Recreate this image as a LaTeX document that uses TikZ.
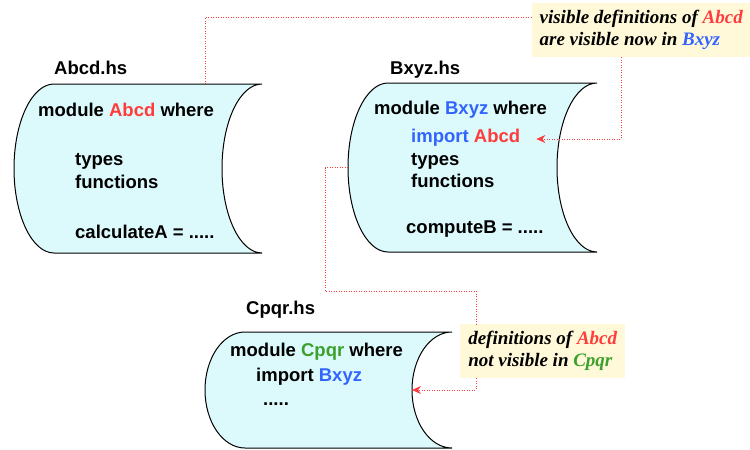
\documentclass[tikz,border=0pt]{standalone}
\usepackage{fontspec}
\setmainfont{Liberation Serif}
\setsansfont{Liberation Sans}
\usetikzlibrary{arrows.meta,positioning}

\definecolor{modred}{RGB}{255,60,60}
\definecolor{modblue}{RGB}{50,100,255}
\definecolor{modgreen}{RGB}{60,160,45}
\definecolor{filefill}{RGB}{220,250,252}
\definecolor{notefill}{RGB}{255,249,218}

% file symbol: name, left, top, right, bottom
\newcommand{\hsfile}[5]{%
  \draw[filebox] ({#2+40},#3) -- (#4,#3)
    arc[start angle=270, end angle=90, x radius=40, y radius={(#5-#3)/2}]
    -- ({#2+40},#5)
    arc[start angle=90, end angle=270, x radius=40, y radius={(#5-#3)/2}]
    -- cycle;
  \coordinate (#1-w) at (#2,{(#3+#5)/2});
  \coordinate (#1-e) at ({#4-40},{(#3+#5)/2});
}

\begin{document}
\begin{tikzpicture}[x=1pt,y=-1pt,>={Stealth[length=9pt,width=8pt]},
        code/.style={font=\sffamily\bfseries\fontsize{18.5}{22}\selectfont,
          anchor=base west,inner sep=0pt},
        note/.style={fill=notefill,anchor=north west,align=left,
          font=\rmfamily\bfseries\itshape\fontsize{19}{22}\selectfont},
        link/.style={modred,line width=0.8pt,dash pattern=on 1pt off 1.5pt},
        filebox/.style={draw,line width=1pt,fill=filefill}]

  \useasboundingbox (0,0) rectangle (750,450);

  \hsfile{a}{14}{84}{262}{253}
  \hsfile{b}{348}{83}{597}{252}
  \hsfile{c}{205}{332}{452}{448}

  \node[code] (atitle) at (54,74)  {Abcd.hs};
  \node[code] (amod)   at (38,116) {module \textcolor{modred}{Abcd} where};
  \node[code] (atypes) at (75,165) {types};
  \node[code] (afun)   at (75,188) {functions};
  \node[code] (acalc)  at (75,238) {calculateA = .....};

  \node[code] (btitle) at (390,74)  {Bxyz.hs};
  \node[code] (bmod)   at (374,114) {module \textcolor{modblue}{Bxyz} where};
  \node[code] (bimp)   at (411,142) {\textcolor{modblue}{import} \textcolor{modred}{Abcd}};
  \node[code] (btypes) at (411,165) {types};
  \node[code] (bfun)   at (411,187) {functions};
  \node[code] (bcomp)  at (406,233) {computeB = .....};

  \node[code] (ctitle) at (246,314) {Cpqr.hs};
  \node[code] (cmod)   at (230,356) {module \textcolor{modgreen}{Cpqr} where};
  \node[code] (cimp)   at (256,381) {import \textcolor{modblue}{Bxyz}};
  \node[code] (cdots)  at (263,405) {.....};

  \node[note,minimum width=218pt,minimum height=54pt] (visA) at (532,3)
    {visible definitions of \textcolor{modred}{Abcd}\\are visible now in \textcolor{modblue}{Bxyz}};
  \node[note,minimum width=165pt,minimum height=54pt] (visC) at (460,324)
    {definitions of \textcolor{modred}{Abcd}\\not visible in \textcolor{modgreen}{Cpqr}};

  \coordinate (atop) at (205,84);
  \coordinate (bendA) at (205,17);
  \coordinate (bendB) at (621,139);
  \coordinate (bendC) at (476,291);

  \draw[link] (atop) -- (bendA) -- (bendA -| visA.west);
  \draw[link,->,shorten >=16pt] (bendB |- visA.south) -- (bendB) -- (bendB -| bimp.east);
  \draw[link] (b-w) -- ++(-23,0) |- (bendC) -- (bendC |- visC.north);
  \draw[link,->] (bendC |- visC.south) -- (bendC |- c-e) -- (c-e);

\end{tikzpicture}
\end{document}
